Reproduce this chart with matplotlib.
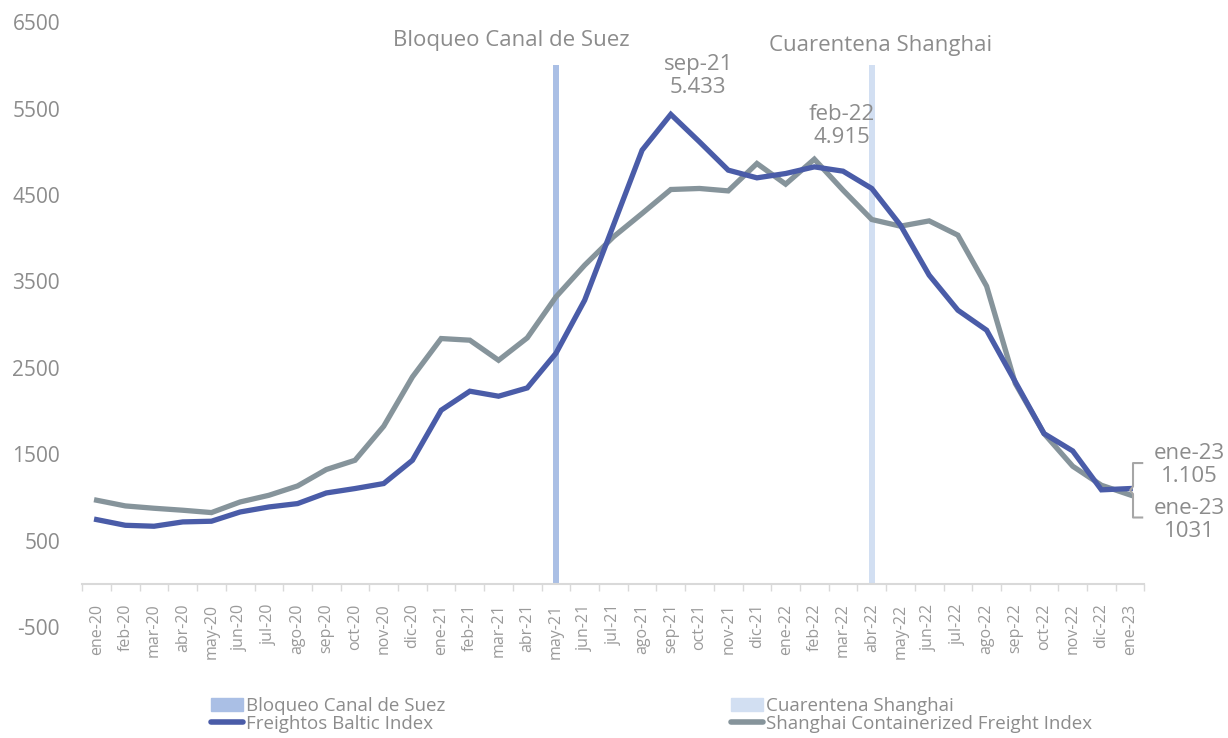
import matplotlib.pyplot as plt
from matplotlib.patches import Patch
from matplotlib.lines import Line2D

months = ["ene-20", "feb-20", "mar-20", "abr-20", "may-20", "jun-20", "jul-20", "ago-20",
          "sep-20", "oct-20", "nov-20", "dic-20", "ene-21", "feb-21", "mar-21", "abr-21",
          "may-21", "jun-21", "jul-21", "ago-21", "sep-21", "oct-21", "nov-21", "dic-21",
          "ene-22", "feb-22", "mar-22", "abr-22", "may-22", "jun-22", "jul-22", "ago-22",
          "sep-22", "oct-22", "nov-22", "dic-22", "ene-23"]

fbx = [746, 680, 669, 719, 727, 834, 892, 931, 1054, 1105, 1163, 1432, 2011, 2231, 2173, 2269,
       2670, 3284, 4150, 5019, 5433, 5115, 4788, 4699, 4749, 4826, 4776, 4576, 4151, 3573,
       3168, 2937, 2339, 1741, 1540, 1090, 1105]

scfi = [970, 904, 877, 854, 827, 950, 1027, 1135, 1325, 1432, 1826, 2396, 2840, 2821, 2589, 2848,
        3322, 3689, 4016, 4287, 4564, 4576, 4548, 4865, 4626, 4915, 4556, 4217, 4140, 4201,
        4036, 3446, 2320, 1741, 1363, 1143, 1031]

events = ["may-21", "abr-22"]
event_names = ["Bloqueo Canal de Suez", "Cuarentena Shanghai"]
event_height = 6000

BLUE = "#4a5ca8"
GRAY = "#86949b"
SUEZ = "#aabfe5"
SHANGHAI = "#d2dff2"
TXT = "#8c8c8c"

plt.rcParams["font.family"] = ["Open Sans", "DejaVu Sans"]
plt.rcParams["axes.unicode_minus"] = False

fig = plt.figure(figsize=(12.28, 7.38), dpi=100)
ax = fig.add_axes([0.067, 0.150, 0.865, 0.820])

x = list(range(len(months)))
ex = [months.index(e) for e in events]
ax.bar(ex[0], event_height, width=0.22, color=SUEZ, zorder=1)
ax.bar(ex[1], event_height, width=0.22, color=SHANGHAI, zorder=1)
ax.plot(x, fbx, color=BLUE, lw=3.8, zorder=3, solid_joinstyle="miter")
ax.plot(x, scfi, color=GRAY, lw=3.8, zorder=2, solid_joinstyle="miter")

ax.set_xlim(-0.5, len(months) - 0.5)
ax.set_ylim(-500, 6500)
ax.set_yticks(range(-500, 6501, 1000))
ax.set_xticks(x, months)
ax.set_xticks([i - 0.5 for i in range(len(months) + 1)], minor=True)
ax.tick_params(axis="x", which="major", length=0, pad=14, labelrotation=90,
               labelsize=11.5, labelcolor="#9a9a9a")
ax.tick_params(axis="x", which="minor", length=5, color="#d9d9d9", width=1)
ax.tick_params(axis="y", length=0, pad=16, labelsize=15, labelcolor=TXT)

for s in ["top", "right", "left"]:
    ax.spines[s].set_visible(False)
ax.spines["bottom"].set_position(("data", 0))
ax.spines["bottom"].set_color("#d9d9d9")
ax.spines["bottom"].set_linewidth(1.5)

# event labels and callouts
ax.text(14.45, 6292, event_names[0], ha="center", va="center", fontsize=16, color=TXT)
ax.text(27.3, 6234, event_names[1], ha="center", va="center", fontsize=16, color=TXT)
ax.text(20.95, 5880, "sep-21\n5.433", ha="center", va="center", fontsize=16, color=TXT,
        linespacing=1.15)
ax.text(25.95, 5300, "feb-22\n4.915", ha="center", va="center", fontsize=16, color=TXT,
        linespacing=1.15)
ax.text(38.05, 1380, "ene-23\n1.105", ha="center", va="center", fontsize=16, color=TXT,
        linespacing=1.15, clip_on=False)
ax.text(38.05, 740, "ene-23\n1031", ha="center", va="center", fontsize=16, color=TXT,
        linespacing=1.15, clip_on=False)
ax.plot([36.42, 36.1, 36.1, 36.0, 36.1, 36.1, 36.42],
        [1400, 1400, 1130, 1085, 1040, 770, 770],
        color="#a6a6a6", lw=1.5, clip_on=False, zorder=4)

leg_font = {"size": 13.5}
h1 = [Patch(color=SUEZ), Line2D([], [], color=BLUE, lw=4, solid_capstyle="round")]
h2 = [Patch(color=SHANGHAI), Line2D([], [], color=GRAY, lw=4, solid_capstyle="round")]
for hs, labels, xpos in [(h1, [event_names[0], "Freightos Baltic Index"], 211),
                         (h2, [event_names[1], "Shanghai Containerized Freight Index"], 731)]:
    lg = fig.legend(hs, labels, loc="upper left", bbox_to_anchor=(xpos / 1228, 1 - 697 / 738),
                    frameon=False, prop=leg_font, handlelength=1.7, handleheight=0.7,
                    handletextpad=0.15, labelspacing=0.0, borderpad=0, borderaxespad=0)
    for t in lg.get_texts():
        t.set_color(TXT)

fig.savefig("out.png", dpi=100, facecolor="white")
